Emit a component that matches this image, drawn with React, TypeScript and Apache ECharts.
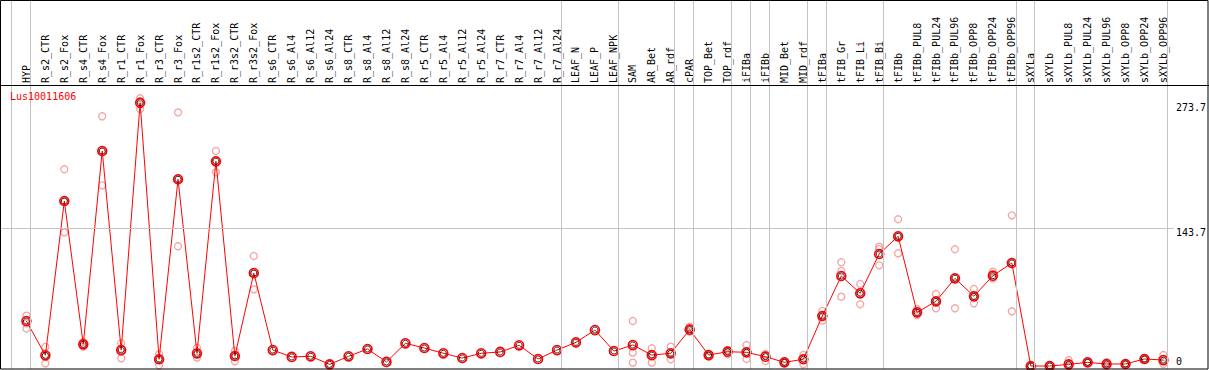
import React, { useEffect, useRef } from "react";
import * as echarts from "echarts";

const geneName = "Lus10011606";

const categories = [
  "HYP", "R_s2_CTR", "R_s2_Fox", "R_s4_CTR", "R_s4_Fox", "R_r1_CTR", "R_r1_Fox", "R_r3_CTR", "R_r3_Fox",
  "R_r1s2_CTR", "R_r1s2_Fox", "R_r3s2_CTR", "R_r3s2_Fox", "R_s6_CTR", "R_s6_Al4", "R_s6_Al12", "R_s6_Al24",
  "R_s8_CTR", "R_s8_Al4", "R_s8_Al12", "R_s8_Al24", "R_r5_CTR", "R_r5_Al4", "R_r5_Al12", "R_r5_Al24",
  "R_r7_CTR", "R_r7_Al4", "R_r7_Al12", "R_r7_Al24", "LEAF_N", "LEAF_P", "LEAF_NPK", "SAM", "AR_Bet", "AR_rdf",
  "cPAR", "TOP_Bet", "TOP_rdf", "iFIBa", "iFIBb", "MID_Bet", "MID_rdf", "tFIBa", "tFIB_Gr", "tFIB_Li", "tFIB_Bi",
  "tFIBb", "tFIBb_PUL8", "tFIBb_PUL24", "tFIBb_PUL96", "tFIBb_OPP8", "tFIBb_OPP24", "tFIBb_OPP96", "sXYLa",
  "sXYLb", "sXYLb_PUL8", "sXYLb_PUL24", "sXYLb_PUL96", "sXYLb_OPP8", "sXYLb_OPP24", "sXYLb_OPP96",
];

const means = [
  46.8, 11.1, 171.6, 22.5, 223.6, 16.6, 273.7, 7.0, 194.2, 13.2, 212.9, 10.4, 96.7, 16.6, 9.4, 10.1, 1.7,
  10.1, 17.7, 4.2, 23.6, 18.7, 13.2, 8.3, 13.2, 14.6, 21.5, 7.3, 16.6, 24.6, 37.4, 15.6, 21.8, 11.4, 13.2,
  37.8, 11.4, 14.9, 14.2, 9.7, 3.8, 7.0, 52.0, 93.6, 75.6, 116.5, 134.9, 55.8, 67.3, 91.2, 72.5, 93.9, 107.1,
  0, 0, 1.7, 3.8, 2.1, 2.1, 7.3, 6.2,
];

const rep1 = [
  52.3, 19.8, 204.6, 25.0, 259.7, 23.6, 278.4, 12.5, 263.8, 19.0, 223.6, 15.6, 114.4, null, null, null, null,
  null, null, null, null, null, null, null, null, null, null, null, null, null, null, null, 46.8, 18.4, 20.1,
  40.9, 12.0, 16.6, 21.8, 11.4, 4.5, 11.4, 57.2, 107.9, 85.3, 124.1, 152.6, 59.0, 74.9, 121.4, 80.1, 98.1, 156.7,
  0, 1.0, 6.2, 3.8, 4.0, 2.5, 8.0, 11.4,
];
const rep2 = [
  44.4, 10.7, 171.0, 22.5, 223.0, 18.0, 275.5, 7.8, 194.0, 12.0, 213.7, 10.7, 96.0, null, null, null, null,
  null, null, null, null, null, null, null, null, null, null, null, null, null, null, null, 13.9, 12.3, 12.5,
  39.2, 11.0, 14.0, 13.5, 12.5, 3.5, 8.0, 51.7, 98.8, 77.0, 121.7, 135.0, 55.5, 67.0, 92.0, 72.2, 92.4, 107.7,
  0, 0, 0, 3.8, 2.1, 2.1, 7.3, 5.0,
];
const rep3 = [
  39.0, 2.8, 139.0, 20.0, 187.9, 8.0, 267.3, 0.7, 124.5, 8.7, 201.4, 4.9, 79.7, null, null, null, null,
  null, null, null, null, null, null, null, null, null, null, null, null, null, null, null, 3.5, 3.5, 7.0,
  35.7, 9.7, 12.2, 7.3, 5.2, 3.2, 1.7, 47.1, 72.1, 64.2, 104.7, 117.2, 53.0, 60.0, 60.0, 65.2, 91.2, 56.9,
  0, 0, 0, 3.8, 0.2, 1.7, 6.5, 2.1,
];

const refLineValue = 143.7;
const topLabels = [143.7, 273.7];
const bottomLabels = [0];
// index of last category in each group (separator drawn just after it)
const groupEnds = [-1, 0, 28, 31, 34, 35, 37, 38, 39, 41, 42, 45, 52, 53, 60];

const FONT = "DejaVu Sans Mono";

export default function App() {
  const ref = useRef<HTMLDivElement>(null);
  useEffect(() => {
    const chart = echarts.init(ref.current!, null, { renderer: "svg" });
    const repPoints: number[][] = [];
    [rep1, rep2, rep3].forEach((arr) =>
      arr.forEach((v, i) => {
        if (v !== null && v !== undefined) repPoints.push([i, v as number]);
      })
    );
    const meanPoints = means.map((v, i) => [i, v]);
    const yMin = -3.12;
    const yMax = 380.65;
    const labelStyle = { fontFamily: FONT, fontSize: 10, color: "#000" };
    chart.setOption({
      animation: false,
      backgroundColor: "#fff",
      title: {
        text: geneName,
        left: 10,
        top: 91,
        padding: 0,
        textStyle: { color: "#ff0000", fontFamily: FONT, fontSize: 10, fontWeight: "normal" },
      },
      grid: { left: 1, right: 32, top: 0, bottom: 1 },
      xAxis: {
        type: "value",
        position: "top",
        offset: -85,
        min: -1.342,
        max: 60.553,
        axisLine: { show: false },
        axisTick: { show: false },
        splitLine: { show: false },
        axisLabel: {
          customValues: categories.map((_, i) => i),
          formatter: (v: number) => categories[Math.round(v)] ?? "",
          rotate: 90,
          margin: 2,
          ...labelStyle,
        },
      },
      yAxis: [
        {
          type: "value",
          position: "right",
          min: yMin,
          max: yMax,
          axisLine: { show: false },
          axisTick: { show: false },
          splitLine: { show: false },
          axisLabel: {
            customValues: topLabels,
            formatter: (v: number) => String(v),
            verticalAlign: "top",
            margin: 2,
            ...labelStyle,
          },
        },
        {
          type: "value",
          position: "right",
          min: yMin,
          max: yMax,
          axisLine: { show: false },
          axisTick: { show: false },
          splitLine: { show: false },
          axisLabel: {
            customValues: bottomLabels,
            formatter: (v: number) => String(v),
            verticalAlign: "bottom",
            margin: 2,
            ...labelStyle,
          },
        },
      ],
      graphic: [
        {
          type: "rect",
          shape: { x: 0.5, y: 0.5, width: 1207.5, height: 368.5 },
          style: { fill: "none", stroke: "#000", lineWidth: 1 },
          silent: true,
          z: 100,
        },
        {
          type: "line",
          shape: { x1: 0, y1: 85.5, x2: 1209, y2: 85.5 },
          style: { stroke: "#000", lineWidth: 1 },
          silent: true,
          z: 100,
        },
      ],
      series: [
        {
          type: "line",
          data: [],
          z: 0,
          silent: true,
          markLine: {
            silent: true,
            symbol: "none",
            label: { show: false },
            animation: false,
            lineStyle: { color: "#c4c4c4", width: 1, type: "solid" },
            data: [
              ...groupEnds.map((g) => ({ xAxis: g + 0.21 })),
              { yAxis: refLineValue },
            ],
          },
        },
        {
          type: "scatter",
          data: repPoints,
          symbol: "circle",
          symbolSize: 7,
          z: 2,
          itemStyle: { color: "rgba(0,0,0,0)", borderColor: "#f08c8c", borderWidth: 1.3 },
          silent: true,
        },
        {
          type: "line",
          data: meanPoints,
          z: 3,
          symbol: "circle",
          symbolSize: 9,
          showSymbol: true,
          lineStyle: { color: "#ff0000", width: 1 },
          itemStyle: { color: "rgba(0,0,0,0)", borderColor: "#ff0000", borderWidth: 1.6 },
          silent: true,
        },
        {
          type: "scatter",
          data: meanPoints,
          z: 4,
          symbol: "circle",
          symbolSize: 6,
          itemStyle: { color: "rgba(0,0,0,0)", borderColor: "#000", borderWidth: 1 },
          silent: true,
        },
      ],
    });
    return () => chart.dispose();
  }, []);
  return (
    <div
      ref={ref}
      style={{ position: "fixed", left: 0, top: 0, width: 1209, height: 370 }}
    />
  );
}
